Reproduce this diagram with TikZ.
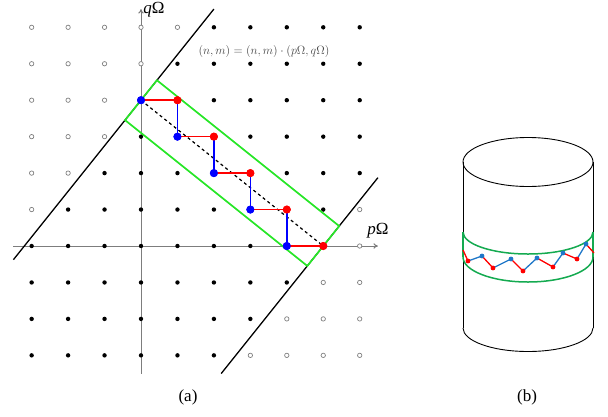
\documentclass[tikz,border=0pt]{standalone}
\usepackage[no-math]{fontspec}
\setmainfont{Liberation Serif}
\usetikzlibrary{arrows.meta}
\definecolor{bandgreen}{RGB}{40,230,40}
\definecolor{cylgreen}{RGB}{20,170,80}
\definecolor{cylblue}{RGB}{31,119,200}
\definecolor{axisgray}{RGB}{125,125,125}
\begin{document}
\begin{tikzpicture}[x=1pt,y=-1pt,
  axisline/.style={draw=axisgray,line width=1pt,-{To[length=4.5pt,width=5.5pt]}},
  fdot/.style={circle,fill=black,inner sep=0pt,minimum size=4.4pt},
  hdot/.style={circle,draw=black!50,line width=0.7pt,fill=white,inner sep=0pt,minimum size=4.4pt},
  bdot/.style={circle,fill=blue,inner sep=0pt,minimum size=8pt},
  rdot/.style={circle,fill=red,inner sep=0pt,minimum size=8pt},
  bound/.style={draw=black,line width=1.3pt},
  bandbox/.style={draw=bandgreen,line width=1.7pt},
  hstep/.style={draw=red,line width=1.5pt},
  vstep/.style={draw=blue,line width=1.5pt},
  diag/.style={draw=black,line width=1.2pt,dash pattern=on 3pt off 3pt},
  cyl/.style={draw=black,line width=0.9pt},
  cband/.style={draw=cylgreen,line width=1.5pt},
  zr/.style={draw=red,line width=1.3pt},
  zb/.style={draw=cylblue,line width=1.3pt},
  zrd/.style={circle,fill=red,inner sep=0pt,minimum size=4.6pt},
  zbd/.style={circle,fill=cylblue,inner sep=0pt,minimum size=4.6pt},
  captext/.style={font=\fontsize{17}{20}\selectfont},
  lbl/.style={font=\fontsize{12.8}{15}\selectfont}]
\useasboundingbox (0,0) rectangle (608,416);
% ---------------- (a) ----------------
\begin{scope}[shift={(141,246)},x=36.45pt,y=36.45pt]
  \coordinate (xs) at (-3.5,0); \coordinate (xe) at (6.5,0);
  \coordinate (ys) at (0,-3.5); \coordinate (ye) at (0,6.5);
  \draw[axisline] (xs) -- (xe);
  \draw[axisline] (ys) -- (ye);
  \foreach \x in {-3,...,6}{
    \foreach \y in {-3,...,6}{
      \pgfmathtruncatemacro{\s}{5*\x-4*\y}
      \pgfmathtruncatemacro{\i}{\x+3}
      \pgfmathtruncatemacro{\j}{\y+3}
      \ifnum\s<-16
        \node[hdot] (g\i-\j) at (\x,\y) {};
      \else\ifnum\s>25
        \node[hdot] (g\i-\j) at (\x,\y) {};
      \else
        \node[fdot] (g\i-\j) at (\x,\y) {};
      \fi\fi
    }}
  % boundary lines
  \coordinate (La) at (-3.5,-0.375); \coordinate (Lb) at (2,6.5);
  \coordinate (Ma) at (2.2,-3.5);    \coordinate (Mb) at (6.5,1.875);
  \draw[bound] (La) -- (Lb);
  \draw[bound] (Ma) -- (Mb);
  % green rectangle
  \coordinate (c1) at (0.437,4.547); \coordinate (c2) at (-0.437,3.453);
  \coordinate (c3) at (4.563,-0.547); \coordinate (c4) at (5.437,0.547);
  \draw[bandbox] (c1) -- (c2) -- (c3) -- (c4) -- cycle;
  % staircase dots
  \node[bdot] (b0) at (0,4) {};
  \node[rdot] (r0) at (1,4) {};
  \node[bdot] (b1) at (1,3) {};
  \node[rdot] (r1) at (2,3) {};
  \node[bdot] (b2) at (2,2) {};
  \node[rdot] (r2) at (3,2) {};
  \node[bdot] (b3) at (3,1) {};
  \node[rdot] (r3) at (4,1) {};
  \node[bdot] (b4) at (4,0) {};
  \node[rdot] (r4) at (5,0) {};
  \draw[diag] (b0.center) -- (r4.center);
  \draw[hstep] (b0.center) -- (r0.center);
  \draw[vstep] (r0.center) -- (b1.center);
  \draw[hstep] (b1.center) -- (r1.center);
  \draw[vstep] (r1.center) -- (b2.center);
  \draw[hstep] (b2.center) -- (r2.center);
  \draw[vstep] (r2.center) -- (b3.center);
  \draw[hstep] (b3.center) -- (r3.center);
  \draw[vstep] (r3.center) -- (b4.center);
  \draw[hstep] (b4.center) -- (r4.center);
  \foreach \n in {b0,b1,b2,b3,b4}{\fill[blue] (\n) circle[radius=4pt];}
  \foreach \n in {r0,r1,r2,r3,r4}{\fill[red] (\n) circle[radius=4pt];}
\end{scope}
\node[lbl,text=black!72] (eq) at (264,51) {$(n,m) = (n,m)\cdot(p\Omega,q\Omega)$};
\node[captext] (plab) at (378,231) {\itshape p\upshape Ω};
\node[captext] (qlab) at (154,10) {\itshape q\upshape Ω};
\node[captext] (capa) at (188,397) {(a)};
% ---------------- (b) ----------------
\coordinate (tc) at (528,162);
\coordinate (tl) at (463,162); \coordinate (tr) at (593,162);
\coordinate (bl) at (463,328); \coordinate (br) at (593,328);
\draw[cyl] (tc) ellipse[x radius=65,y radius=24.5];
\draw[cyl] (tl) -- (bl);
\draw[cyl] (tr) -- (br);
\draw[cyl] (bl) arc[start angle=180,end angle=0,x radius=65,y radius=23.5];
\coordinate (gul) at (463,232); \coordinate (gur) at (593,232);
\coordinate (gll) at (463,257); \coordinate (glr) at (593,257);
\draw[cband] (gul) arc[start angle=180,end angle=0,x radius=65,y radius=22];
\draw[cband] (gll) arc[start angle=180,end angle=0,x radius=65,y radius=25];
\draw[cband] (gul) -- (gll);
\draw[cband] (gur) -- (glr);
\coordinate (zs) at (463,250);
\node[zrd] (R1) at (468,261) {};
\node[zbd] (B1) at (482,256) {};
\node[zrd] (R2) at (493,268) {};
\node[zbd] (B2) at (511,259) {};
\node[zrd] (R3) at (523,271) {};
\node[zbd] (B3) at (537,258) {};
\node[zrd] (R4) at (553,267) {};
\node[zbd] (B4) at (563,253) {};
\node[zrd] (R5) at (577,259) {};
\node[zbd] (B5) at (586,244) {};
\coordinate (ze) at (594,253);
\draw[zr] (zs) -- (R1.center);
\draw[zb] (R1.center) -- (B1.center);
\draw[zr] (B1.center) -- (R2.center);
\draw[zb] (R2.center) -- (B2.center);
\draw[zr] (B2.center) -- (R3.center);
\draw[zb] (R3.center) -- (B3.center);
\draw[zr] (B3.center) -- (R4.center);
\draw[zb] (R4.center) -- (B4.center);
\draw[zr] (B4.center) -- (R5.center);
\draw[zb] (R5.center) -- (B5.center);
\draw[zr] (B5.center) -- (ze);
\foreach \n in {R1,R2,R3,R4,R5}{\fill[red] (\n) circle[radius=2.3pt];}
\foreach \n in {B1,B2,B3,B4,B5}{\fill[cylblue] (\n) circle[radius=2.3pt];}
\node[captext] (capb) at (527,397) {(b)};
\end{tikzpicture}
\end{document}
